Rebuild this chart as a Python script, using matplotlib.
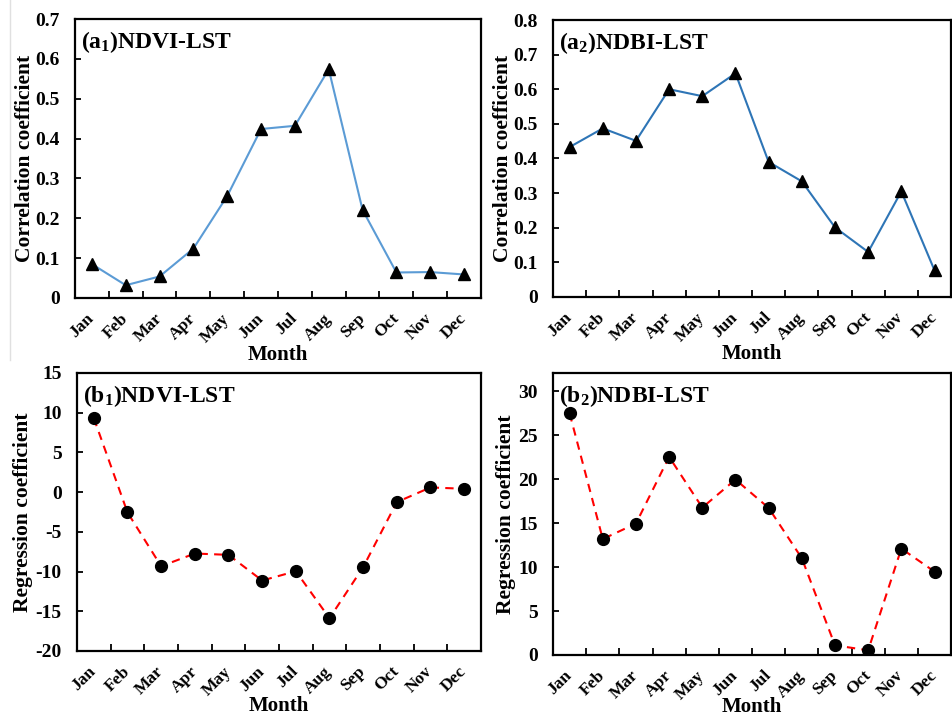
import matplotlib
matplotlib.use("Agg")
import matplotlib.pyplot as plt
from matplotlib.lines import Line2D

plt.rcParams['font.family'] = ['Liberation Serif', 'DejaVu Serif']
plt.rcParams['font.weight'] = 'bold'
plt.rcParams['mathtext.fontset'] = 'custom'
plt.rcParams['mathtext.rm'] = 'Liberation Serif:bold'
plt.rcParams['mathtext.bf'] = 'Liberation Serif:bold'
plt.rcParams['mathtext.default'] = 'rm'

months = ["Jan", "Feb", "Mar", "Apr", "May", "Jun", "Jul", "Aug", "Sep", "Oct", "Nov", "Dec"]

ndvi_corr = [0.085, 0.032, 0.054, 0.124, 0.256, 0.424, 0.432, 0.574, 0.221, 0.064, 0.065, 0.059]
ndbi_corr = [0.433, 0.487, 0.451, 0.600, 0.580, 0.646, 0.390, 0.334, 0.201, 0.130, 0.305, 0.077]
ndvi_reg = [9.3, -2.56, -9.33, -7.73, -7.9, -11.13, -9.96, -15.88, -9.45, -1.26, 0.59, 0.42]
ndbi_reg = [27.5, 13.2, 14.96, 22.55, 16.78, 19.97, 16.74, 11.01, 1.10, 0.53, 12.11, 9.49]

fig = plt.figure(figsize=(9.53, 7.17), dpi=100)

panels = [
    dict(rect=[0.0787, 0.5844, 0.4260, 0.3891], data=ndvi_corr, kind='corr', color='#5B9BD5',
         title=r'(a$_{1}$)NDVI-LST', ylim=(0, 0.7), yticks=[0, 0.1, 0.2, 0.3, 0.4, 0.5, 0.6, 0.7],
         yfmt=lambda v: '0' if v == 0 else f'{v:.1f}', ylabel='Correlation coefficient',
         ylc=(-0.099, 0.5), xlc=(0.5, -0.168)),
    dict(rect=[0.5803, 0.5858, 0.4177, 0.3863], data=ndbi_corr, kind='corr', color='#2E75B6',
         title=r'(a$_{2}$)NDBI-LST', ylim=(0, 0.8), yticks=[0, 0.1, 0.2, 0.3, 0.4, 0.5, 0.6, 0.7, 0.8],
         yfmt=lambda v: '0' if v == 0 else f'{v:.1f}', ylabel='Correlation coefficient',
         ylc=(-0.10, 0.5), xlc=(0.5, -0.168)),
    dict(rect=[0.0808, 0.0921, 0.4239, 0.3877], data=ndvi_reg, kind='reg', color='#FF0000',
         title=r'(b$_{1}$)NDVI-LST', ylim=(-20, 15), yticks=[-20, -15, -10, -5, 0, 5, 10, 15],
         yfmt=lambda v: f'{v:d}', ylabel='Regression coefficient',
         ylc=(-0.109, 0.5), xlc=(0.5, -0.163)),
    dict(rect=[0.5803, 0.0865, 0.4177, 0.3933], data=ndbi_reg, kind='reg', color='#FF0000',
         title=r'(b$_{2}$)NDBI-LST', ylim=(0, 32.1), yticks=[0, 5, 10, 15, 20, 25, 30],
         yfmt=lambda v: f'{v:d}', ylabel='Regression coefficient',
         ylc=(-0.093, 0.5), xlc=(0.5, -0.15)),
]

x = list(range(len(months)))
for p in panels:
    ax = fig.add_axes(p['rect'])
    if p['kind'] == 'corr':
        ax.plot(x, p['data'], color=p['color'], lw=1.5, marker='^', ms=8,
                mfc='black', mec='black', zorder=3)
    else:
        ax.plot(x, p['data'], color=p['color'], lw=1.5, ls=(0, (4, 3)), marker='o', ms=8.5,
                mfc='black', mec='black', zorder=3)
    ax.set_xlim(-0.5, 11.5)
    ax.set_ylim(*p['ylim'])
    ax.set_yticks(p['yticks'])
    ax.set_yticklabels([p['yfmt'](v) for v in p['yticks']], fontsize=14, fontweight='bold')
    ax.set_xticks(x)
    ax.set_xticklabels(months, rotation=45, ha='right', va='center', rotation_mode='anchor',
                       fontsize=12.5, fontweight='bold')
    ax.set_xticks([i + 0.5 for i in range(11)], minor=True)
    ax.tick_params(axis='x', which='major', length=0, pad=13)
    ax.tick_params(axis='x', which='minor', direction='in', length=5, width=1.3)
    ax.tick_params(axis='y', which='major', direction='in', length=4, width=1.3, pad=11)
    for s in ax.spines.values():
        s.set_linewidth(1.6)
    ax.set_ylabel(p['ylabel'], fontsize=15.5, fontweight='bold')
    ax.yaxis.set_label_coords(*p['ylc'])
    ax.set_xlabel('Month', fontsize=15, fontweight='bold')
    ax.xaxis.set_label_coords(*p['xlc'])
    ax.text(0.015, 0.965, p['title'], transform=ax.transAxes, fontsize=17, fontweight='bold',
            ha='left', va='top')

fig.add_artist(Line2D([10 / 953, 10 / 953], [1, 1 - 360 / 717], color='#E0E0E0', lw=1))

fig.savefig('out.png', dpi=100)
